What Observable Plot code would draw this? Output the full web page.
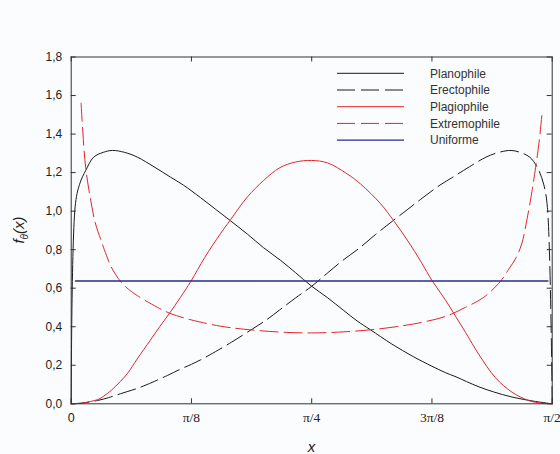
<!DOCTYPE html>
<html><head><meta charset="utf-8">
<script src="https://cdn.jsdelivr.net/npm/d3@7"></script>
<script src="https://cdn.jsdelivr.net/npm/@observablehq/plot@0.6"></script>
<style>
html,body{margin:0;padding:0;background:#fafcfe;width:560px;height:454px;overflow:hidden;}
#chart{position:absolute;left:0;top:0;width:560px;height:454px;}
</style></head><body><div id="chart"></div>
<script>
// x values in degrees (0..90 = 0..π/2), y = f_θ(x)
const planophileX = [0, 0.8, 1.7, 2.7, 4.2, 6, 7.7, 10, 12.4, 15.5, 18.6, 21, 24.2, 27, 29.8, 33, 36, 39.2, 42, 45, 48, 51, 53.5, 56, 60, 64, 67.5, 70, 72, 74, 76.3, 79, 82.5, 86.9, 90];
const planophileY = [0, 1.04, 1.15, 1.21, 1.28, 1.305, 1.315, 1.305, 1.28, 1.23, 1.176, 1.135, 1.07, 1.01, 0.95, 0.88, 0.81, 0.744, 0.68, 0.61, 0.55, 0.484, 0.43, 0.384, 0.31, 0.245, 0.195, 0.162, 0.14, 0.115, 0.088, 0.062, 0.035, 0.012, 0];

const erectophileX = [0, 2, 4.9, 7, 9.2, 12.35, 14.2, 18, 20.45, 22.5, 24.2, 26, 30, 34, 36.5, 39, 42, 45, 48, 50.8, 54, 57, 60.2, 63, 65.8, 69, 71.4, 74.5, 77.6, 80, 82.3, 84, 85.8, 87.2, 88.4, 89.1, 90];
const erectophileY = [0, 0.004, 0.017, 0.032, 0.052, 0.08, 0.1, 0.147, 0.18, 0.205, 0.228, 0.255, 0.32, 0.39, 0.435, 0.487, 0.55, 0.61, 0.68, 0.744, 0.81, 0.88, 0.95, 1.01, 1.07, 1.135, 1.176, 1.23, 1.28, 1.305, 1.315, 1.305, 1.28, 1.228, 1.14, 1.02, 0];

const plagiophileX = [0, 2, 3.6, 5, 6.1, 7.5, 9.2, 10.6, 12.35, 14.8, 16.5, 18.45, 20.45, 22.4, 25, 27.9, 29.8, 33, 36, 39, 42, 45, 48, 51.6, 54.1, 57.9, 60.4, 63, 65.5, 67.5, 70, 71.9, 73.8, 76.3, 79.4, 82.5, 85.6, 88, 90];
const plagiophileY = [0, 0.003, 0.012, 0.022, 0.04, 0.07, 0.116, 0.16, 0.233, 0.33, 0.398, 0.472, 0.553, 0.636, 0.76, 0.882, 0.955, 1.075, 1.159, 1.225, 1.255, 1.263, 1.25, 1.194, 1.142, 1.038, 0.948, 0.845, 0.735, 0.64, 0.54, 0.455, 0.37, 0.255, 0.135, 0.06, 0.017, 0.003, 0];

const extremophileX = [1.85, 2.2, 2.7, 3.5, 4.5, 5.5, 6.2, 7.5, 9.2, 10.7, 12.35, 16.1, 18.45, 21.7, 24.2, 27.9, 31.7, 39.2, 45, 50, 56, 62, 66, 70, 73.8, 77.2, 80.3, 81.9, 83.3, 84.4, 85.3, 86.2, 86.9, 87.6, 88.15];
const extremophileY = [1.56, 1.40, 1.228, 1.08, 0.94, 0.855, 0.8, 0.71, 0.636, 0.595, 0.562, 0.501, 0.47, 0.441, 0.424, 0.403, 0.389, 0.372, 0.368, 0.372, 0.384, 0.405, 0.425, 0.453, 0.501, 0.553, 0.635, 0.70, 0.761, 0.84, 0.96, 1.1, 1.228, 1.37, 1.525];

const uniformX = [0.8, 89.2];
const uniformY = [0.637, 0.637];

const seriesNames = ["Planophile", "Erectophile", "Plagiophile", "Extremophile", "Uniforme"];
const xTickValues = [0, 22.5, 45, 67.5, 90];
const xTickLabels = ["0", "π/8", "π/4", "3π/8", "π/2"];
const yTickValues = [0, 0.2, 0.4, 0.6, 0.8, 1.0, 1.2, 1.4, 1.6, 1.8];

const BLACK = "#1a1a1a", RED = "#e3262a", NAVY = "#2a2a8c";
const styles = [
  {stroke: BLACK, dash: null},
  {stroke: BLACK, dash: "18,6"},
  {stroke: RED, dash: null},
  {stroke: RED, dash: "18,6"},
  {stroke: NAVY, dash: null, width: 1.6}
];
const xs = [planophileX, erectophileX, plagiophileX, extremophileX, uniformX];
const ys = [planophileY, erectophileY, plagiophileY, extremophileY, uniformY];
const series = xs.map((X, i) => X.map((x, j) => ({x, y: ys[i][j], name: seriesNames[i]})));

const W = 560, H = 454;
const mL = 70.7, mR = 8.3, mT = 56.5, mB = 50.7;
const fw = W - mL - mR, fh = H - mT - mB;
const tick = 5;

const marks = [];
// inward ticks on all four sides
marks.push(Plot.ruleX(xTickValues, {x: d => d, insetTop: fh - tick, stroke: "#333"}));
marks.push(Plot.ruleX(xTickValues, {x: d => d, insetBottom: fh - tick, stroke: "#333"}));
marks.push(Plot.ruleY(yTickValues, {y: d => d, insetRight: fw - tick, stroke: "#333"}));
marks.push(Plot.ruleY(yTickValues, {y: d => d, insetLeft: fw - tick, stroke: "#333"}));

series.forEach((data, i) => {
  const s = styles[i];
  marks.push(Plot.line(data, {
    x: "x", y: "y", stroke: s.stroke, strokeWidth: s.width || 1,
    strokeDasharray: s.dash, curve: "catmull-rom"
  }));
});

marks.push(Plot.frame({stroke: "#333", strokeWidth: 1}));
marks.push(Plot.axisY({anchor: "left", ticks: yTickValues, tickSize: 0, tickPadding: 9,
  tickFormat: d => d.toFixed(1).replace(".", ","), label: null, fontSize: 12}));
marks.push(Plot.axisX({anchor: "bottom", ticks: xTickValues, tickSize: 0, tickPadding: 9,
  tickFormat: d => xTickLabels[xTickValues.indexOf(d)], label: null,
  fontSize: 13.5, fontFamily: "'Liberation Serif', 'Times New Roman', serif"}));

const svg = Plot.plot({
  width: W, height: H,
  marginLeft: mL, marginRight: mR, marginTop: mT, marginBottom: mB,
  x: {domain: [0, 90]},
  y: {domain: [0, 1.8]},
  style: {background: "#fafcfe", color: "#222", fontFamily: "'Liberation Sans', Arial, sans-serif", fontSize: "12px"},
  marks
});
svg.style.display = "block";
svg.style.width = W + "px";
svg.style.height = H + "px";
svg.style.maxWidth = "none";
document.getElementById("chart").appendChild(svg);

const sel = d3.select(svg);
sel.selectAll('g[aria-label="x-axis tick label"] text')
  .filter(function(){ return this.textContent === "0"; })
  .attr("font-family", "'Liberation Sans', Arial, sans-serif").attr("font-size", 12.5);

// axis titles
sel.append("text").attr("x", mL + fw / 2 + 0.3).attr("y", 452)
  .attr("text-anchor", "middle").attr("font-style", "italic").attr("font-size", 15)
  .attr("fill", "#222").text("x");
const yl = sel.append("text").attr("transform", "translate(24,230) rotate(-90)")
  .attr("text-anchor", "middle").attr("font-style", "italic").attr("font-size", 15).attr("fill", "#222");
yl.append("tspan").text("f");
yl.append("tspan").attr("font-size", 10).attr("dy", 4).text("θ");
yl.append("tspan").attr("dy", -4).text("(x)");

// legend
const lg = sel.append("g").attr("text-anchor", "start");
seriesNames.forEach((name, i) => {
  const yy = 73.3 + i * 16.7;
  const s = styles[i];
  lg.append("line").attr("x1", 337).attr("x2", 404).attr("y1", yy).attr("y2", yy)
    .attr("stroke", s.stroke).attr("stroke-width", s.width ? 1.3 : 1)
    .attr("stroke-dasharray", s.dash);
  lg.append("text").attr("x", 430).attr("y", yy + 4.3).attr("font-size", 12)
    .attr("text-anchor", "start").attr("fill", "#333").text(name);
});
</script></body></html>
